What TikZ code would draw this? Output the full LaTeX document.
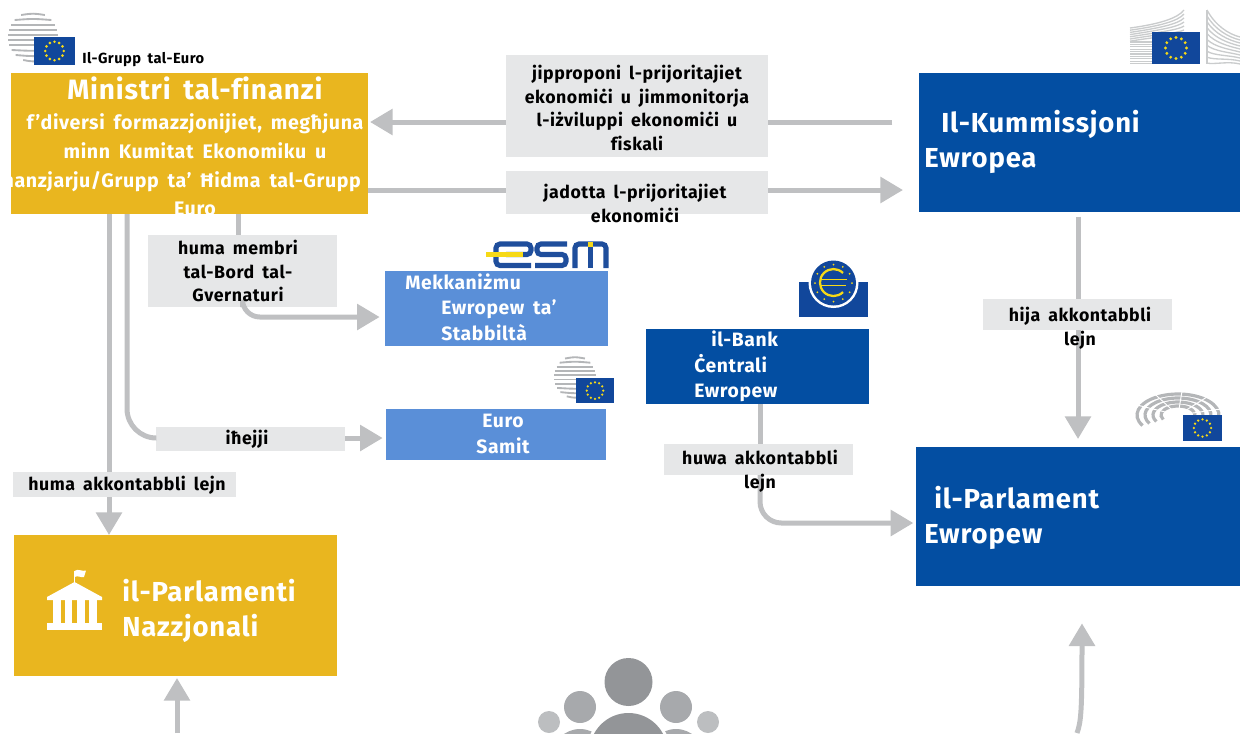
\documentclass[tikz,border=0pt]{standalone}
\usepackage{fontspec}
\setmainfont{Fira Sans}[WordSpace=1.7,LetterSpace=3,RawFeature={-liga}]
\usetikzlibrary{arrows.meta}
\definecolor{gold}{HTML}{E9B61F}
\definecolor{eublue}{HTML}{034EA2}
\definecolor{ltblue}{HTML}{5A8FD8}
\definecolor{labgrey}{HTML}{E6E7E8}
\definecolor{linegrey}{HTML}{BFC0C2}
\definecolor{flagblue}{HTML}{11479B}
\definecolor{stargold}{HTML}{F6D917}
\definecolor{esmblue}{HTML}{1F4E9C}
\definecolor{stripe}{HTML}{B4B6B8}
\definecolor{pplA}{HTML}{939598}
\definecolor{pplB}{HTML}{A7A9AC}
\definecolor{pplC}{HTML}{BCBEC0}
\tikzset{
  conn/.style={draw=linegrey,line width=3.75pt},
  connarrow/.style={conn,-{Triangle[length=17pt,width=19pt]}},
  boxtext/.style={text=white,font=\bfseries,inner sep=0pt,align=left,anchor=west},
  labtext/.style={text=black,font=\bfseries\fontsize{13.3}{17.7}\selectfont,inner sep=0pt,align=center},
  bigtext/.style={boxtext,font=\bfseries\fontsize{20.6}{26.2}\selectfont},
  midtext/.style={boxtext,font=\bfseries\fontsize{14.5}{19.2}\selectfont},
}
% name, x1, y1, x2, y2, fill
\newcommand{\solidbox}[6]{\node[fill=#6,inner sep=0pt,outer sep=0pt,minimum width=(#4-#2)*0.75pt,minimum height=(#5-#3)*0.75pt] (#1) at ({(#2+#4)/2},{(#3+#5)/2}) {};}
% flag x1 y1 x2 y2
\newcommand{\flagbox}[4]{%
  \fill[flagblue] (#1,#2) rectangle (#3,#4);
  \foreach \a in {0,30,...,330}{
    \fill[stargold] ({(#1+#3)/2+0.33*(#4-#2)*cos(\a)},{(#2+#4)/2+0.33*(#4-#2)*sin(\a)}) circle ({0.05*(#4-#2)});
  }}
% stripes cx cy R
\newcommand{\councilstripes}[3]{%
  \foreach \d in {-4.4,-3.4,...,4.6}{
    \pgfmathsetmacro{\hw}{#3*sqrt(1-(\d/5)^2)}
    \draw[stripe,line width=1.4pt] ({#1-\hw},{#2+\d*#3/5}) .. controls ({#1},{#2+\d*#3/5+0.4*\d}) .. ({#1+\hw},{#2+\d*#3/5});
  }}
\begin{document}
\begin{tikzpicture}[x=0.75pt,y=-0.75pt]
\useasboundingbox (0,0) rectangle (1240,733);
\begin{scope}
\clip (0,0) rectangle (1240,733);
% logos
\councilstripes{33}{37}{25}
\flagbox{34}{37}{75}{65}
% Commission logo
\foreach \i in {0,...,6}{
  \draw[stripe!70,line width=1pt] (1130,{28+\i*2.2}) .. controls (1160,{24+\i*2}) and (1178,{18+\i*3}) .. (1184,{10+\i*4});
}
\foreach \i in {0,...,9}{
  \draw[stripe!70,line width=1pt] (1130,{42+\i*2.4}) -- (1152,{42+\i*2.4});
}
\foreach \i in {0,...,9}{
  \draw[stripe!70,line width=1pt] (1207,{10+\i*5.9}) .. controls (1215,{25+\i*4.4}) and (1228,{34+\i*3}) .. (1240,{37+\i*3});
}
\draw[stripe!70,line width=1pt] (1207,10) -- (1207,64);
\flagbox{1152}{32}{1200}{64}
% parliament logo
\foreach \r/\s in {41/21,33/17,25/13,17/9}{
  \draw[stripe,line width=2.4pt] ({1178+\r*cos(150)},{415+\s*sin(150)}) arc[start angle=150,end angle=375,x radius=\r,y radius=\s];
}
\foreach \a in {205,240,275,310,345}{
  \draw[white,line width=0.7pt] ({1178+12*cos(\a)},{415+6*sin(\a)}) -- ({1178+46*cos(\a)},{415+24*sin(\a)});
}
\flagbox{1183}{415}{1222}{441}
% ESM logo
\draw[esmblue,line width=3.8pt,rounded corners=3pt] (506,254.5) -- (531,254.5) -- (531,244) -- (496,244) -- (496,265.5) -- (531,265.5);
\draw[esmblue,line width=3.8pt,rounded corners=3pt] (567,244) -- (537,244) -- (537,254.5) -- (566,254.5) -- (566,265.5) -- (535,265.5);
\draw[esmblue,line width=3.8pt,rounded corners=3pt] (575,268) -- (575,244) -- (606,244) -- (606,268);
\draw[esmblue,line width=3.8pt] (590.5,244) -- (590.5,268);
\fill[stargold] (486,252) rectangle (523,257);
\fill[stargold] (588,242) rectangle (593,247);
% ECB logo
\fill[flagblue] (799,282) rectangle (868,317);
\fill[white] (833.5,283) circle (25);
\fill[flagblue] (833.5,283) circle (22.5);
\foreach \a in {0,30,...,330}{
  \fill[stargold] ({833.5+18.5*cos(\a)},{283+18.5*sin(\a)}) circle (1);
}
\draw[stargold,line width=1.7pt] (843,273) arc[start angle=-45,end angle=-315,radius=13.5];
\draw[stargold,line width=1.2pt] (820,279.5) -- (847,279.5) (820,285.5) -- (846,285.5);
% Euro summit logo
\councilstripes{575}{377}{21}
\flagbox{576}{378}{614}{403}
% boxes
\solidbox{min}{11}{73}{368}{214}{gold}
\solidbox{com}{919}{73}{1240}{212}{eublue}
\solidbox{mek}{385}{271}{608}{346}{ltblue}
\solidbox{eur}{386}{409}{606}{460}{ltblue}
\solidbox{ecb}{646}{329}{869}{404}{eublue}
\solidbox{ep}{916}{447}{1240}{586}{eublue}
\solidbox{nat}{14}{535}{337}{676}{gold}
% label boxes
\solidbox{jip}{506}{55}{768}{157}{labgrey}
\solidbox{jad}{506}{171}{768}{214}{labgrey}
\solidbox{mem}{148}{235}{337}{307}{labgrey}
\solidbox{ihe}{156}{427}{345}{451}{labgrey}
\solidbox{aka}{13}{472}{236}{497}{labgrey}
\solidbox{hij}{983}{299}{1172}{330}{labgrey}
\solidbox{huw}{664}{444}{853}{475}{labgrey}
% helper coordinates
\coordinate (ya) at (0,122);
\coordinate (yb) at (0,190);
\coordinate (yc) at (0,317);
\coordinate (yd) at (0,438);
\coordinate (ye) at (0,523);
\coordinate (xa) at (109,0);
\coordinate (xb) at (127,0);
\coordinate (xc) at (238,0);
\coordinate (xd) at (760,0);
\coordinate (xe) at (1078,0);
\coordinate (xf) at (1082,0);
\coordinate (natfree) at (177,733);
\coordinate (epfree) at (1077,733);
% connectors
\draw[conn,shorten <=20pt] (com.west |- ya) -- (jip.east |- ya);
\draw[connarrow,shorten >=1.5pt] (jip.west |- ya) -- (min.east |- ya);
\draw[conn] (min.east |- yb) -- (jad.west |- yb);
\draw[connarrow,shorten >=12pt] (jad.east |- yb) -- (com.west |- yb);
\draw[conn] (min.south -| xc) -- (mem.north -| xc);
\draw[connarrow,rounded corners=13pt,shorten >=4pt] (mem.south) |- (mek.west |- yc);
\draw[conn,rounded corners=22pt] (min.south -| xb) |- (ihe.west |- yd);
\draw[connarrow,shorten >=2.5pt] (ihe.east |- yd) -- (eur.west |- yd);
\draw[conn] (min.south -| xa) -- (aka.north -| xa);
\draw[connarrow] (aka.south -| xa) -- (nat.north -| xa);
\draw[conn,shorten <=3.5pt] (com.south -| xe) -- (hij.north -| xe);
\draw[connarrow,shorten >=6pt] (hij.south -| xe) -- (ep.north -| xe);
\draw[conn] (ecb.south -| xd) -- (huw.north -| xd);
\draw[connarrow,rounded corners=16pt,shorten >=2pt] (huw.south -| xd) |- (ep.west |- ye);
\draw[connarrow,shorten >=1.5pt] (natfree) -- (nat.south -| natfree);
\draw[connarrow,shorten >=28pt] (epfree) .. controls (1081,722) and (1082,712) .. (ep.south -| xf);
% national parliaments icon
\fill[white] (47,630) rectangle (102,623);
\foreach \x in {53,64.5,77,89}{ \fill[white] (\x,600) rectangle ({\x+7.5},623); }
\fill[white] (47,597) -- (74.5,582) -- (102,597) -- (102,600) -- (47,600) -- cycle;
\draw[white,line width=0.8pt] (74.5,583) -- (74.5,571);
\fill[white] (74.5,571) .. controls (78,568) and (82,572) .. (86,570.5) -- (84,577) .. controls (81,578) and (78,575) .. (74.5,577) -- cycle;
% people icon
\fill[pplC] (549,722) circle (11);
\fill[pplC] (708,722) circle (11);
\fill[pplB] (580,707) circle (16);
\fill[pplB] (676,707) circle (16);
\fill[white] (580,757) circle (30);
\fill[white] (676,757) circle (30);
\fill[pplB] (580,757) circle (28);
\fill[pplB] (676,757) circle (28);
\fill[white] (628.5,752) circle (42);
\fill[pplA] (628.5,752) circle (39);
\fill[pplA] (628.5,682) circle (24);
% texts
\node[anchor=west,inner sep=0pt,font=\bfseries\fontsize{11}{13}\selectfont] (tgrp) at (82,60) {Il-Grupp tal-Euro};
\node[boxtext,anchor=center,align=center,font=\bfseries\fontsize{21}{24}\selectfont] (tmin) at (195,88) {Ministri tal-finanzi};
\node[boxtext,anchor=center,align=center,font=\bfseries\fontsize{14.7}{21.6}\selectfont] (tmin2) at (195,165) {f’diversi formazzjonijiet, megħjuna\\minn  Kumitat Ekonomiku u\\Finanzjarju/Grupp ta’ Ħidma tal-Grupp tal-\\Euro};
\node[labtext] (tjip) at (637,108) {jipproponi l-prijoritajiet\\ekonomiċi u jimmonitorja\\l-iżviluppi ekonomiċi u\\fiskali};
\node[labtext] (tjad) at (635,203.5) {jadotta l-prijoritajiet\\ekonomiċi};
\node[labtext] (tmem) at (238,271) {huma membri\\tal-Bord tal-\\Gvernaturi};
\node[labtext] (tihe) at (247,439.5) {iħejji};
\node[labtext] (taka) at (127,485) {huma akkontabbli lejn};
\node[labtext] (thij) at (1080,328.5) {hija akkontabbli\\lejn};
\node[labtext] (thuw) at (760,471) {huwa akkontabbli\\lejn};
\node[bigtext] (tcom) at (924,142) {\hspace*{12.75pt}Il-Kummissjoni\\Ewropea};
\node[bigtext] (tep) at (924,518) {\hspace*{7.5pt}il-Parlament\\Ewropew};
\node[bigtext] (tnat) at (122,611) {il-Parlamenti\\Nazzjonali};
\node[midtext] (tmek) at (405,307) {Mekkaniżmu\\\hspace*{27pt}Ewropew ta'\\\hspace*{27pt}Stabbiltà};
\node[midtext] (tecb) at (694,366.5) {\hspace*{12.75pt}il-Bank\\Ċentrali\\Ewropew};
\node[midtext,anchor=center,align=center] (teur) at (503,434) {Euro\\Samit};
\end{scope}
\end{tikzpicture}
\end{document}
